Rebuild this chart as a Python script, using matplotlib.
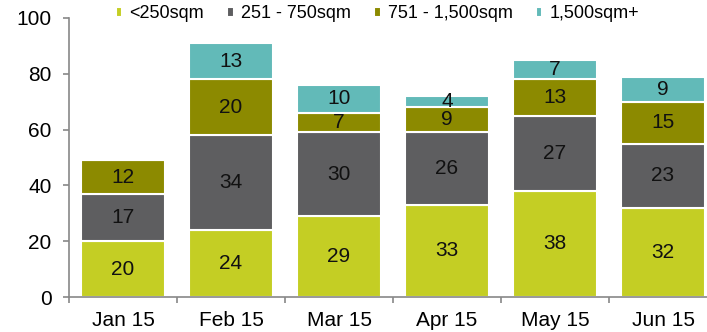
import matplotlib
matplotlib.use("Agg")
import matplotlib.pyplot as plt
import numpy as np

plt.rcParams['font.family'] = ['Liberation Sans', 'DejaVu Sans']

months = ['Jan 15', 'Feb 15', 'Mar 15', 'Apr 15', 'May 15', 'Jun 15']
series_names = ['<250sqm', '251 - 750sqm', '751 - 1,500sqm', '1,500sqm+']
small = [20, 24, 29, 33, 38, 32]
mid = [17, 34, 30, 26, 27, 23]
large = [12, 20, 7, 9, 13, 15]
xlarge = [0, 13, 10, 4, 7, 9]

colors = ['#C4CE24', '#5E5E60', '#8C8A00', '#62BAB8']

fig = plt.figure(figsize=(7.07, 3.32), dpi=100)
ax = fig.add_axes([0.0976, 0.1054, 0.9166, 0.8404])

x = np.arange(len(months))
bottom = np.zeros(len(months))
for vals, name, col in zip([small, mid, large, xlarge], series_names, colors):
    vals = np.array(vals, dtype=float)
    ax.bar(x, vals, 0.78, bottom=bottom, color=col, edgecolor='white',
           linewidth=1.5, label=name)
    for xi, b, v in zip(x, bottom, vals):
        if v > 0:
            ax.text(xi, b + v / 2, f'{int(v)}', ha='center', va='center',
                    fontsize=15, color='#111111')
    bottom += vals

ax.set_xlim(-0.5, len(months) - 0.5)
ax.set_ylim(0, 100)
ax.set_yticks(range(0, 101, 20))
ax.set_xticks(x)
ax.set_xticklabels(months)
ax.set_xticks(np.arange(-0.5, len(months)), minor=True)
ax.tick_params(axis='x', which='major', length=0, labelsize=15, pad=10)
ax.tick_params(axis='x', which='minor', length=4, color='#888888', width=1.2)
ax.tick_params(axis='y', length=4.5, color='#888888', width=1.2,
               labelsize=15, pad=8)

for s in ['top', 'right']:
    ax.spines[s].set_visible(False)
for s in ['left', 'bottom']:
    ax.spines[s].set_color('#888888')
    ax.spines[s].set_linewidth(1.2)

ax.legend(loc='upper left', bbox_to_anchor=(0.072, 1.045), ncol=4, frameon=False,
          fontsize=13, handlelength=0.35, handleheight=0.5, handletextpad=0.4,
          columnspacing=1.3, borderaxespad=0, borderpad=0)

fig.savefig('out.png', dpi=100)
